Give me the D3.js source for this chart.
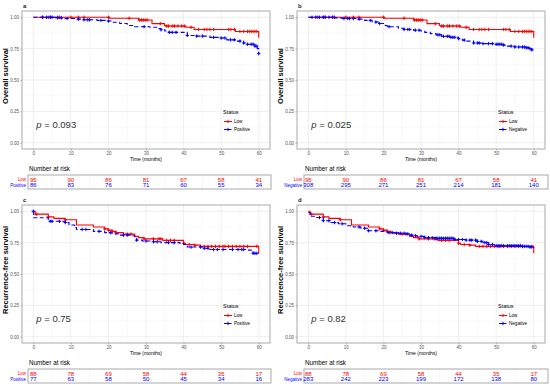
<!DOCTYPE html>
<html>
<head>
<meta charset="utf-8">
<script src="https://cdn.jsdelivr.net/npm/d3@7"></script>
<style>
  body { margin: 0; background: #fff; }
  svg { display: block; font-family: "Liberation Sans", Arial, sans-serif; }
</style>
</head>
<body>
<div id="chart"></div>
<script>
const xTicks = [0, 10, 20, 30, 40, 50, 60];
const yTicks = [0, 0.25, 0.5, 0.75, 1];

// Low group, overall survival (panels a, b)
const lowOsTimes = [0, 20.3, 28, 31.6, 34.9, 35.3, 40.6, 42.8, 53.8, 60];
const lowOsSurv = [1, 0.992, 0.978, 0.949, 0.935, 0.93, 0.92, 0.903, 0.887, 0.836];
const lowOsCens = [2.5, 4, 4.6, 6.5, 7, 10, 12, 13.5, 20, 25.5, 28.3, 28.8, 29.3, 29.8, 30.3, 33.8, 35.5, 36, 37, 37.6, 38.5, 39.5, 40.2, 42, 44, 45.5, 46.2, 47, 48, 52, 52.6, 53.5, 55, 56, 57, 57.5, 58, 58.5, 59, 59.5];

// Positive group, overall survival (panel a)
const posOsTimes = [0, 6, 8, 11, 13, 17, 19.5, 21, 23, 25, 27, 31, 33, 34, 35, 36, 41, 43, 47, 50, 51.5, 54, 56, 57, 59, 59.6, 60];
const posOsSurv = [1, 0.995, 0.99, 0.985, 0.98, 0.975, 0.97, 0.96, 0.95, 0.935, 0.925, 0.92, 0.91, 0.9, 0.89, 0.88, 0.855, 0.85, 0.84, 0.835, 0.82, 0.81, 0.795, 0.785, 0.77, 0.75, 0.71];
const posOsCens = [2.5, 3.5, 4.5, 5, 6.5, 7.5, 9, 12, 13.5, 14.5, 15, 18, 20, 29.5, 34, 36.2, 37, 38, 41, 43.5, 45, 48, 50, 51, 52.5, 53.5, 55, 56, 57, 58, 58.5, 59, 59.5, 60];

// Negative group, overall survival (panel b)
const negOsTimes = [0, 7, 9, 13, 15, 17, 19, 20.5, 21, 24, 25.5, 28, 30, 31, 32.5, 34, 35.5, 38, 40, 41, 42, 44, 46, 50, 52, 53, 55, 58, 59, 59.5, 60];
const negOsSurv = [1, 0.995, 0.99, 0.985, 0.975, 0.962, 0.95, 0.935, 0.925, 0.912, 0.903, 0.897, 0.89, 0.88, 0.87, 0.86, 0.848, 0.84, 0.83, 0.818, 0.81, 0.795, 0.79, 0.785, 0.778, 0.77, 0.763, 0.757, 0.75, 0.74, 0.73];
const negOsCens = [1, 2, 3, 4, 4.5, 5.5, 6.5, 9.5, 10.5, 11, 12, 13.5, 16.5, 18, 19, 21.5, 25.5, 26.5, 27, 28.5, 29.5, 34.5, 35, 36, 37, 37.5, 38, 38.5, 39, 40, 41.5, 44, 45, 45.5, 46.5, 48, 49, 50, 50.5, 51, 51.5, 52, 54, 55, 56, 57, 57.5, 58, 58.5, 59, 59.5];

// Low group, recurrence-free survival (panels c, d)
const lowRfsTimes = [0, 0.5, 4, 5.5, 8.5, 11.5, 16, 19, 20, 21, 22, 24, 27, 28, 29.5, 34.5, 40, 40.5, 43, 44.5, 60];
const lowRfsSurv = [1, 0.977, 0.955, 0.943, 0.932, 0.89, 0.875, 0.86, 0.85, 0.84, 0.83, 0.818, 0.8, 0.79, 0.78, 0.768, 0.745, 0.735, 0.73, 0.72, 0.665];
const lowRfsCens = [0.8, 4, 8.5, 19, 20, 21, 22, 25, 26, 29.5, 32, 33.5, 34, 35.5, 36.5, 37.5, 40, 41.5, 43, 45.5, 46.5, 47.5, 48.5, 49.5, 50.5, 51, 52, 53, 54, 55, 56, 57, 59.5];

// Positive group, recurrence-free survival (panel c)
const posRfsTimes = [0, 0.1, 4, 4.5, 8.5, 9.5, 11, 11.5, 16, 19, 21, 23, 26, 27, 27.5, 29, 32, 34, 39, 40, 41, 45.5, 47, 57, 58.5, 60];
const posRfsSurv = [1, 0.948, 0.935, 0.92, 0.91, 0.89, 0.87, 0.855, 0.84, 0.83, 0.82, 0.81, 0.805, 0.79, 0.77, 0.763, 0.757, 0.75, 0.745, 0.735, 0.715, 0.705, 0.695, 0.69, 0.665, 0.665];
const posRfsCens = [0, 4.5, 5, 7, 8.5, 13, 14, 17.5, 20.5, 24, 25, 27.5, 30, 32, 33, 36, 37.5, 42, 44.5, 45.5, 46.5, 48, 49, 50.5, 53, 54.5, 55.5, 56, 58.5, 59, 59.5];

// Negative group, recurrence-free survival (panel d)
const negRfsTimes = [0, 0.5, 2, 4, 6, 8, 10, 12, 14, 16, 19, 21, 23, 26, 27, 28, 29, 31, 34, 39, 42, 45, 46.5, 48, 50, 57, 59, 60];
const negRfsSurv = [0.99, 0.96, 0.95, 0.925, 0.91, 0.9, 0.885, 0.875, 0.865, 0.845, 0.84, 0.83, 0.825, 0.82, 0.81, 0.805, 0.8, 0.79, 0.785, 0.775, 0.77, 0.76, 0.75, 0.735, 0.725, 0.72, 0.715, 0.71];
const negRfsCens = [3, 4, 5.5, 7, 9, 13.5, 15, 16, 18, 21.5, 22.5, 23.5, 24.5, 25.5, 26.5, 27.5, 28.5, 30, 31, 32, 33, 34, 34.5, 35, 35.5, 36, 36.5, 37, 37.5, 38, 38.5, 39, 40, 41, 42, 43, 43.5, 44.5, 45, 46, 47, 47.5, 48, 49, 50, 50.5, 51, 51.5, 52, 53, 53.5, 54, 54.5, 55, 55.5, 56, 56.5, 57, 57.5, 58, 58.5, 59, 59.5];

// numbers at risk
const riskLowOs = [95, 90, 86, 81, 67, 58, 41];
const riskPosOs = [86, 83, 76, 71, 60, 55, 34];
const riskNegOs = [308, 295, 271, 251, 214, 181, 140];
const riskLowRfs = [88, 78, 69, 58, 44, 35, 17];
const riskPosRfs = [77, 63, 58, 50, 45, 34, 16];
const riskNegRfs = [283, 242, 223, 199, 172, 138, 80];

const pValues = ["0.093", "0.025", "0.75", "0.82"];
const panelLetters = ["a", "b", "c", "d"];
const yTitles = ["Overall survival", "Overall survival", "Recurrence-free survival", "Recurrence-free survival"];
const groupNames = [["Low", "Positive"], ["Low", "Negative"], ["Low", "Positive"], ["Low", "Negative"]];

const RED = "#ff0000", BLUE = "#0000ff";
const DASH = "4,2.5";

const panels = [
  {x0: 22, x1: 270, y0: 11, y1: 149, tLeft: 28, tRight: 271,
   red: [lowOsTimes, lowOsSurv, lowOsCens], blue: [posOsTimes, posOsSurv, posOsCens], risk: [riskLowOs, riskPosOs]},
  {x0: 297, x1: 545, y0: 11, y1: 149, tLeft: 304, tRight: 548,
   red: [lowOsTimes, lowOsSurv, lowOsCens], blue: [negOsTimes, negOsSurv, negOsCens], risk: [riskLowOs, riskNegOs]},
  {x0: 22, x1: 270, y0: 205, y1: 343, tLeft: 28, tRight: 271,
   red: [lowRfsTimes, lowRfsSurv, lowRfsCens], blue: [posRfsTimes, posRfsSurv, posRfsCens], risk: [riskLowRfs, riskPosRfs]},
  {x0: 297, x1: 545, y0: 205, y1: 343, tLeft: 304, tRight: 548,
   red: [lowRfsTimes, lowRfsSurv, lowRfsCens], blue: [negRfsTimes, negRfsSurv, negRfsCens], risk: [riskLowRfs, riskNegRfs]}
];

const svg = d3.select("#chart").append("svg")
  .attr("width", 550).attr("height", 389);

function survAt(times, surv, t) {
  const i = d3.bisectRight(times, t) - 1;
  return surv[Math.max(0, i)];
}

panels.forEach((p, k) => {
  const x = d3.scaleLinear().domain([-3, 63]).range([p.x0, p.x1]);
  const y = d3.scaleLinear().domain([-0.05, 1.05]).range([p.y1, p.y0]);
  const g = svg.append("g");

  // grid (minor + major)
  const minorX = [5, 15, 25, 35, 45, 55];
  const minorY = [0.125, 0.375, 0.625, 0.875];
  g.selectAll(".mx").data(minorX).join("line")
    .attr("x1", d => x(d)).attr("x2", d => x(d)).attr("y1", p.y0).attr("y2", p.y1)
    .attr("stroke", "#f3f3f3").attr("stroke-width", 0.5);
  g.selectAll(".my").data(minorY).join("line")
    .attr("y1", d => y(d)).attr("y2", d => y(d)).attr("x1", p.x0).attr("x2", p.x1)
    .attr("stroke", "#f3f3f3").attr("stroke-width", 0.5);
  g.selectAll(".gx").data(xTicks).join("line")
    .attr("x1", d => x(d)).attr("x2", d => x(d)).attr("y1", p.y0).attr("y2", p.y1)
    .attr("stroke", "#ebebeb").attr("stroke-width", 0.8);
  g.selectAll(".gy").data(yTicks).join("line")
    .attr("y1", d => y(d)).attr("y2", d => y(d)).attr("x1", p.x0).attr("x2", p.x1)
    .attr("stroke", "#ebebeb").attr("stroke-width", 0.8);

  // axes
  const xa = g.append("g").attr("transform", `translate(0,${p.y1})`)
    .call(d3.axisBottom(x).tickValues(xTicks).tickSize(1.5).tickPadding(1));
  const ya = g.append("g").attr("transform", `translate(${p.x0},0)`)
    .call(d3.axisLeft(y).tickValues(yTicks).tickFormat(d3.format(".2f")).tickSize(1.5).tickPadding(1.5));
  [xa, ya].forEach(a => {
    a.select(".domain").remove();
    a.selectAll("line").attr("stroke", "#555").attr("stroke-width", 0.5);
    a.selectAll("text").attr("fill", "#555").style("font-size", "4.5px").style("font-family", "Liberation Sans, Arial, sans-serif");
  });

  // curves
  const clipId = "clip" + k;
  g.append("clipPath").attr("id", clipId).append("rect")
    .attr("x", p.x0).attr("y", p.y0).attr("width", p.x1 - p.x0).attr("height", p.y1 - p.y0);
  const line = d3.line().x(d => x(d[0])).y(d => y(d[1])).curve(d3.curveStepAfter);
  const groups = [[p.red, RED, null], [p.blue, BLUE, DASH]];
  groups.forEach(([data, col, dash]) => {
    const [times, surv, cens] = data;
    const pts = times.map((t, i) => [t, surv[i]]);
    g.append("path").attr("clip-path", `url(#${clipId})`)
      .attr("d", line(pts)).attr("fill", "none")
      .attr("stroke", col).attr("stroke-width", 1.1).attr("stroke-dasharray", dash);
    g.selectAll(null).data(cens).join("path")
      .attr("d", d => {
        const cx = x(d), cy = y(survAt(times, surv, d)), s = 1.7;
        return `M${cx - s},${cy}H${cx + s}M${cx},${cy - s}V${cy + s}`;
      })
      .attr("stroke", col).attr("stroke-width", 1);
  });

  // border
  g.append("rect").attr("x", p.x0).attr("y", p.y0)
    .attr("width", p.x1 - p.x0).attr("height", p.y1 - p.y0)
    .attr("fill", "none").attr("stroke", "#aaaaaa").attr("stroke-width", 1);

  // labels
  g.append("text").attr("x", p.x0 + 1).attr("y", p.y0 - 3)
    .style("font-size", "6px").style("font-weight", "bold").attr("fill", "#222").text(panelLetters[k]);
  g.append("text").attr("transform", `translate(${p.x0 - 14},${(p.y0 + p.y1) / 2 - 4}) rotate(-90)`)
    .attr("text-anchor", "middle").style("font-size", "7.5px").style("font-weight", "bold")
    .attr("fill", "#000").text(yTitles[k]);
  g.append("text").attr("x", (p.x0 + p.x1) / 2).attr("y", p.y1 + 12)
    .attr("text-anchor", "middle").style("font-size", "5px").attr("fill", "#000").text("Time (months)");

  const pt = g.append("text").attr("x", x(0.8)).attr("y", y(0.13) + 2)
    .style("font-size", "9.5px").attr("fill", "#333");
  pt.append("tspan").style("font-style", "italic").text("p");
  pt.append("tspan").text(" = " + pValues[k]);

  // legend
  const lx = p.x0 + 201, ly = p.y0 + 103;
  g.append("text").attr("x", lx).attr("y", ly).style("font-size", "5.5px").attr("fill", "#000").text("Status");
  [[RED, null], [BLUE, "3,1.5"]].forEach(([col, dash], i) => {
    const yy = ly + 7.5 + i * 8;
    g.append("line").attr("x1", lx + 1).attr("x2", lx + 9).attr("y1", yy).attr("y2", yy)
      .attr("stroke", col).attr("stroke-width", 1).attr("stroke-dasharray", dash);
    g.append("path").attr("d", `M${lx + 3.3},${yy}H${lx + 6.7}M${lx + 5},${yy - 1.7}V${yy + 1.7}`)
      .attr("stroke", col).attr("stroke-width", 1);
    g.append("text").attr("x", lx + 11).attr("y", yy + 1.6).style("font-size", "4.6px")
      .attr("fill", "#000").text(groupNames[k][i]);
  });

  // risk table
  const ty0 = p.y1 + 26, ty1 = p.y1 + 40;
  g.append("text").attr("x", p.tLeft + 1).attr("y", p.y1 + 22)
    .style("font-size", "6.3px").attr("fill", "#000").text("Number at risk");
  const tg = g.append("g");
  tg.selectAll(".tgx").data(xTicks.concat([5, 15, 25, 35, 45, 55])).join("line")
    .attr("x1", d => x(d)).attr("x2", d => x(d)).attr("y1", ty0).attr("y2", ty1)
    .attr("stroke", "#eeeeee").attr("stroke-width", 0.5);
  tg.append("rect").attr("x", p.tLeft).attr("y", ty0).attr("width", p.tRight - p.tLeft).attr("height", ty1 - ty0)
    .attr("fill", "none").attr("stroke", "#aaaaaa").attr("stroke-width", 1);
  [[p.risk[0], RED], [p.risk[1], BLUE]].forEach(([vals, col], i) => {
    const yy = ty0 + 6.7 + i * 5.6;
    tg.selectAll(null).data(vals).join("text")
      .attr("x", (d, j) => x(xTicks[j])).attr("y", yy)
      .attr("text-anchor", "middle").style("font-size", "6px").attr("fill", col).text(d => d);
    tg.append("text").attr("x", p.tLeft - 2).attr("y", yy - 0.5)
      .attr("text-anchor", "end").style("font-size", "4.5px").attr("fill", col).text(groupNames[k][i]);
  });
});
</script>
</body>
</html>
